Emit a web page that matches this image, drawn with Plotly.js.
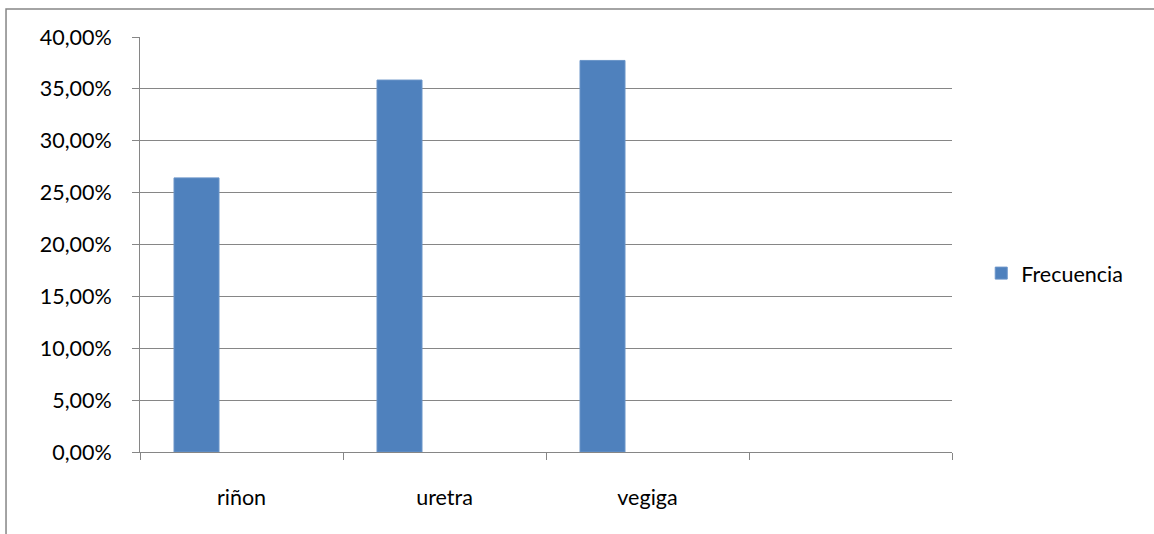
<!DOCTYPE html>
<html>
<head>
<meta charset="utf-8">
<script src="https://cdn.plot.ly/plotly-3.0.1.min.js"></script>
<style>html,body{margin:0;padding:0;background:#fff;}#chart{width:1154px;height:534px;}</style>
</head>
<body>
<div id="chart"></div>
<script>
const categories = ['riñon', 'uretra', 'vegiga', ' '];
const frecuencia = [0.2642, 0.3585, 0.3774, null];
const seriesName = 'Frecuencia';

const font = {family: 'Lato, "Open Sans", "Liberation Sans", sans-serif', size: 21.5, color: '#000'};

const trace = {
  type: 'bar',
  x: categories,
  y: frecuencia,
  name: seriesName,
  width: 0.2217,
  offset: -0.3325,
  marker: {color: '#4F81BD', line: {color: '#6A94C8', width: 1}},
  showlegend: true,
  hoverinfo: 'skip'
};

const layout = {
  width: 1154, height: 534,
  margin: {l: 140, r: 202, t: 37, b: 82},
  paper_bgcolor: '#fff', plot_bgcolor: '#fff',
  separators: ',.',
  font: font,
  showlegend: true,
  legend: {x: 1.036, xanchor: 'left', y: 0.431, yanchor: 'middle', font: {family: font.family, size: 21.5, color: '#000'}, itemwidth: 30, bgcolor: 'rgba(0,0,0,0)'},
  xaxis: {
    type: 'category',
    categoryorder: 'array',
    categoryarray: categories,
    range: [-0.5, 3.5],
    tickson: 'boundaries',
    ticks: 'outside', ticklen: 7, tickcolor: '#868686', tickwidth: 1,
    showline: true, linecolor: '#868686', linewidth: 1,
    showgrid: false, zeroline: false,
    tickfont: font,
    ticklabelstandoff: 26,
    fixedrange: true
  },
  yaxis: {
    range: [0, 0.4],
    tickvals: [0, 0.05, 0.1, 0.15, 0.2, 0.25, 0.3, 0.35, 0.4],
    tickformat: '.2%',
    ticks: 'outside', ticklen: 7, tickcolor: '#868686', tickwidth: 1,
    showline: true, linecolor: '#868686', linewidth: 1,
    showgrid: true, gridcolor: '#868686', gridwidth: 1,
    zeroline: false,
    tickfont: font,
    ticklabelstandoff: 16,
    fixedrange: true
  },
  shapes: [{
    type: 'rect', xref: 'paper', yref: 'paper',
    x0: -0.165, x1: 1.4, y0: -0.4, y1: 1.0675,
    line: {color: '#868686', width: 1.5}, fillcolor: 'rgba(0,0,0,0)', layer: 'below'
  }]
};

Plotly.newPlot('chart', [trace], layout, {displayModeBar: false, staticPlot: true});
</script>
</body>
</html>
